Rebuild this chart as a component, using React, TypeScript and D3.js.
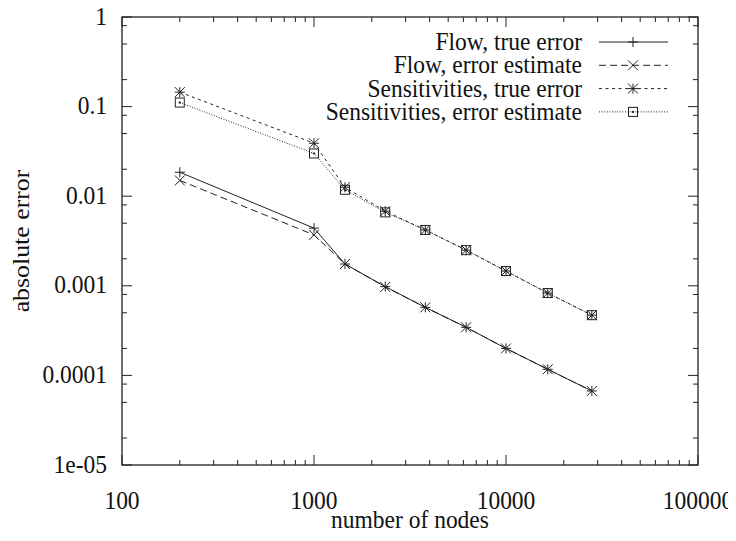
import React from "react";
import * as d3 from "d3";

// values
const nodes = [200, 1000, 1450, 2350, 3800, 6200, 10000, 16500, 28000];
const flowTrue = [0.0185, 0.0044, 0.00175, 0.00098, 0.000575, 0.000344, 0.0002, 0.000117, 0.000067];
const flowEst = [0.015, 0.0037, 0.00175, 0.00097, 0.000575, 0.000344, 0.0002, 0.000117, 0.000067];
const sensTrue = [0.145, 0.039, 0.0126, 0.0068, 0.0042, 0.0025, 0.00146, 0.00083, 0.00047];
const sensEst = [0.111, 0.030, 0.0118, 0.0066, 0.0042, 0.0025, 0.00146, 0.00083, 0.00047];

const xTicks = [100, 1000, 10000, 100000];
const yTicks = [1, 0.1, 0.01, 0.001, 0.0001, 0.00001];
const yTickLabels = ["1", "0.1", "0.01", "0.001", "0.0001", "1e-05"];
const seriesNames = [
  "Flow, true error",
  "Flow, error estimate",
  "Sensitivities, true error",
  "Sensitivities, error estimate",
];

const width = 736;
const height = 541;
const margin = { top: 17, right: 38, bottom: 76, left: 122 };
const font = "Liberation Serif";
const fontSize = 23.5;
const stretch = 1.1; // the original figure is a bit taller than wide
const ink = "#222";

const x = d3
  .scaleLog()
  .domain([100, 100000])
  .range([margin.left, width - margin.right]);
const y = d3
  .scaleLog()
  .domain([0.00001, 1])
  .range([height - margin.bottom, margin.top]);

const styles = [
  { dash: "none", marker: "plus" },
  { dash: "7,4", marker: "cross" },
  { dash: "3,3.5", marker: "star" },
  { dash: "1,1.6", marker: "box" },
];

const Label = ({ x, y, anchor = "middle", rotate = false, children }) => (
  <text
    transform={
      rotate
        ? `translate(${x},${y}) rotate(-90) scale(${stretch},1)`
        : `translate(${x},${y}) scale(1,${stretch})`
    }
    textAnchor={anchor}
    fontFamily={font}
    fontSize={fontSize}
    fill="#111"
  >
    {children}
  </text>
);

const Marker = ({ type, cx, cy }) => {
  const s = 5;
  const plus = (
    <>
      <line x1={cx - s} x2={cx + s} y1={cy} y2={cy} />
      <line x1={cx} x2={cx} y1={cy - s} y2={cy + s} />
    </>
  );
  const cross = (
    <>
      <line x1={cx - s} x2={cx + s} y1={cy - s} y2={cy + s} />
      <line x1={cx - s} x2={cx + s} y1={cy + s} y2={cy - s} />
    </>
  );
  if (type === "plus") return <g>{plus}</g>;
  if (type === "cross") return <g>{cross}</g>;
  if (type === "star")
    return (
      <g>
        {plus}
        {cross}
      </g>
    );
  return (
    <g>
      <rect x={cx - 4.5} y={cy - 4.5} width={9} height={9} fill="none" />
      <circle cx={cx} cy={cy} r={0.8} fill={ink} />
    </g>
  );
};

export default function App() {
  const all = [flowTrue, flowEst, sensTrue, sensEst];
  const line = d3
    .line<number>()
    .x((_, i) => x(nodes[i]))
    .y((d) => y(d));

  // minor ticks: x at 2..9 per decade, y at 2,5,8 per decade
  const xMinor: number[] = [];
  for (let e = 2; e < 5; e++)
    for (let k = 2; k <= 9; k++) xMinor.push(k * Math.pow(10, e));
  const yMinor: number[] = [];
  for (let e = -5; e < 0; e++)
    for (const k of [2, 5, 8]) yMinor.push(k * Math.pow(10, e));

  const x0 = margin.left;
  const x1 = width - margin.right;
  const y0 = height - margin.bottom;
  const y1 = margin.top;

  const legendY = (i) => 42 + i * 23.3;

  return (
    <svg width={width} height={height} style={{ display: "block", margin: "-8px" }}>
      <rect width={width} height={height} fill="#fff" />
      <g stroke={ink} strokeWidth={1}>
        {xTicks.map((t) => (
          <g key={"xm" + t}>
            <line x1={x(t)} x2={x(t)} y1={y0} y2={y0 - 10} />
            <line x1={x(t)} x2={x(t)} y1={y1} y2={y1 + 10} />
          </g>
        ))}
        {xMinor.map((t) => (
          <g key={"xn" + t}>
            <line x1={x(t)} x2={x(t)} y1={y0} y2={y0 - 5} />
            <line x1={x(t)} x2={x(t)} y1={y1} y2={y1 + 5} />
          </g>
        ))}
        {yTicks.map((t) => (
          <g key={"ym" + t}>
            <line x1={x0} x2={x0 + 10} y1={y(t)} y2={y(t)} />
            <line x1={x1} x2={x1 - 10} y1={y(t)} y2={y(t)} />
          </g>
        ))}
        {yMinor.map((t) => (
          <g key={"yn" + t}>
            <line x1={x0} x2={x0 + 5} y1={y(t)} y2={y(t)} />
            <line x1={x1} x2={x1 - 5} y1={y(t)} y2={y(t)} />
          </g>
        ))}
        <rect x={x0} y={y1} width={x1 - x0} height={y0 - y1} fill="none" strokeWidth={1.3} />
      </g>

      {xTicks.map((t) => (
        <Label key={"xl" + t} x={x(t)} y={y0 + 44}>
          {t}
        </Label>
      ))}
      {yTicks.map((t, i) => (
        <Label key={"yl" + t} x={x0 - 15} y={y(t) + 7.5} anchor="end">
          {yTickLabels[i]}
        </Label>
      ))}
      <Label x={(x0 + x1) / 2} y={528}>
        number of nodes
      </Label>
      <Label x={29} y={(y0 + y1) / 2} rotate>
        absolute error
      </Label>
      {seriesNames.map((n, i) => (
        <Label key={n} x={582} y={legendY(i) + 8} anchor="end">
          {n}
        </Label>
      ))}

      <g fill="none" stroke={ink} strokeWidth={1}>
        {all.map((s, i) => (
          <g key={i}>
            <path d={line(s)} strokeDasharray={styles[i].dash} />
            {s.map((v, j) => (
              <Marker key={j} type={styles[i].marker} cx={x(nodes[j])} cy={y(v)} />
            ))}
            <line x1={599} x2={668} y1={legendY(i)} y2={legendY(i)} strokeDasharray={styles[i].dash} />
            <Marker type={styles[i].marker} cx={633} cy={legendY(i)} />
          </g>
        ))}
      </g>
    </svg>
  );
}
